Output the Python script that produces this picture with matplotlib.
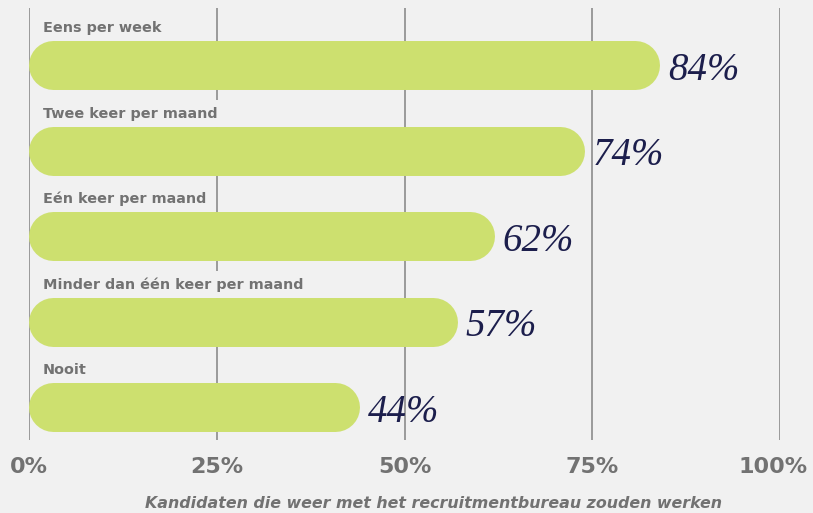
import matplotlib
matplotlib.use("Agg")
import matplotlib.pyplot as plt
from matplotlib.transforms import ScaledTranslation

categories = ["Eens per week", "Twee keer per maand", "Eén keer per maand",
              "Minder dan één keer per maand", "Nooit"]
values = [84, 74, 62, 57, 44]
ticks = [0, 25, 50, 75, 100]
tick_labels = ["0%", "25%", "50%", "75%", "100%"]
xlabel = "Kandidaten die weer met het recruitmentbureau zouden werken"

bg = "#f1f1f1"
bar_color = "#cde06f"
grey = "#727272"
navy = "#1c1e4c"

W, H = 813, 513
fig = plt.figure(figsize=(W / 100, H / 100), dpi=100, facecolor=bg)
# axes in pixel terms: x 29..780, y 8..440
ax = fig.add_axes([29 / W, 1 - 440 / H, 751 / W, 432 / H], facecolor=bg)
ax.set_xlim(0, 100)
ax.set_ylim(4.386, -0.667)

for s in ax.spines.values():
    s.set_visible(False)
ax.set_xticks(ticks)
ax.set_xticklabels(tick_labels)
ax.set_yticks([])
ax.tick_params(axis="x", length=0, pad=12, labelsize=16, labelcolor=grey)
for lbl in ax.get_xticklabels():
    lbl.set_fontweight("bold")
last = ax.get_xticklabels()[-1]
last.set_transform(last.get_transform() + ScaledTranslation(-7 / 100, 0, fig.dpi_scale_trans))
ax.grid(axis="x", color="#939393", linewidth=1.3)
ax.set_axisbelow(True)

# pill-shaped bars: thick lines with round caps
fig.canvas.draw()
p0 = ax.transData.transform((0, 0))
p1 = ax.transData.transform((1, 1))
px_per_x = abs(p1[0] - p0[0])
px_per_y = abs(p1[1] - p0[1])

bar_h = 0.573
bar_px = bar_h * px_per_y
r = bar_px / 2 / px_per_x
lw = bar_px * 72 / fig.dpi
for i, (cat, v) in enumerate(zip(categories, values)):
    ax.plot([r, v - r], [i, i], color=bar_color, lw=lw,
            solid_capstyle="round", zorder=5)
    ax.text(1.86, i - 0.43, cat, fontsize=10.4, fontweight="bold", color=grey,
            va="center", ha="left", zorder=4,
            bbox=dict(boxstyle="square,pad=0.45", facecolor=bg, edgecolor="none"))
    ax.text(v + 1.1, i + 0.06, f"{v}%", fontsize=28, style="italic",
            family="Liberation Serif", color=navy, va="center", ha="left", zorder=6)

fig.text(433 / W, 1 - 503 / H, xlabel, fontsize=11.4, fontweight="bold",
         style="italic", color=grey, ha="center", va="center")

fig.savefig("out.png", dpi=100, facecolor=bg)
